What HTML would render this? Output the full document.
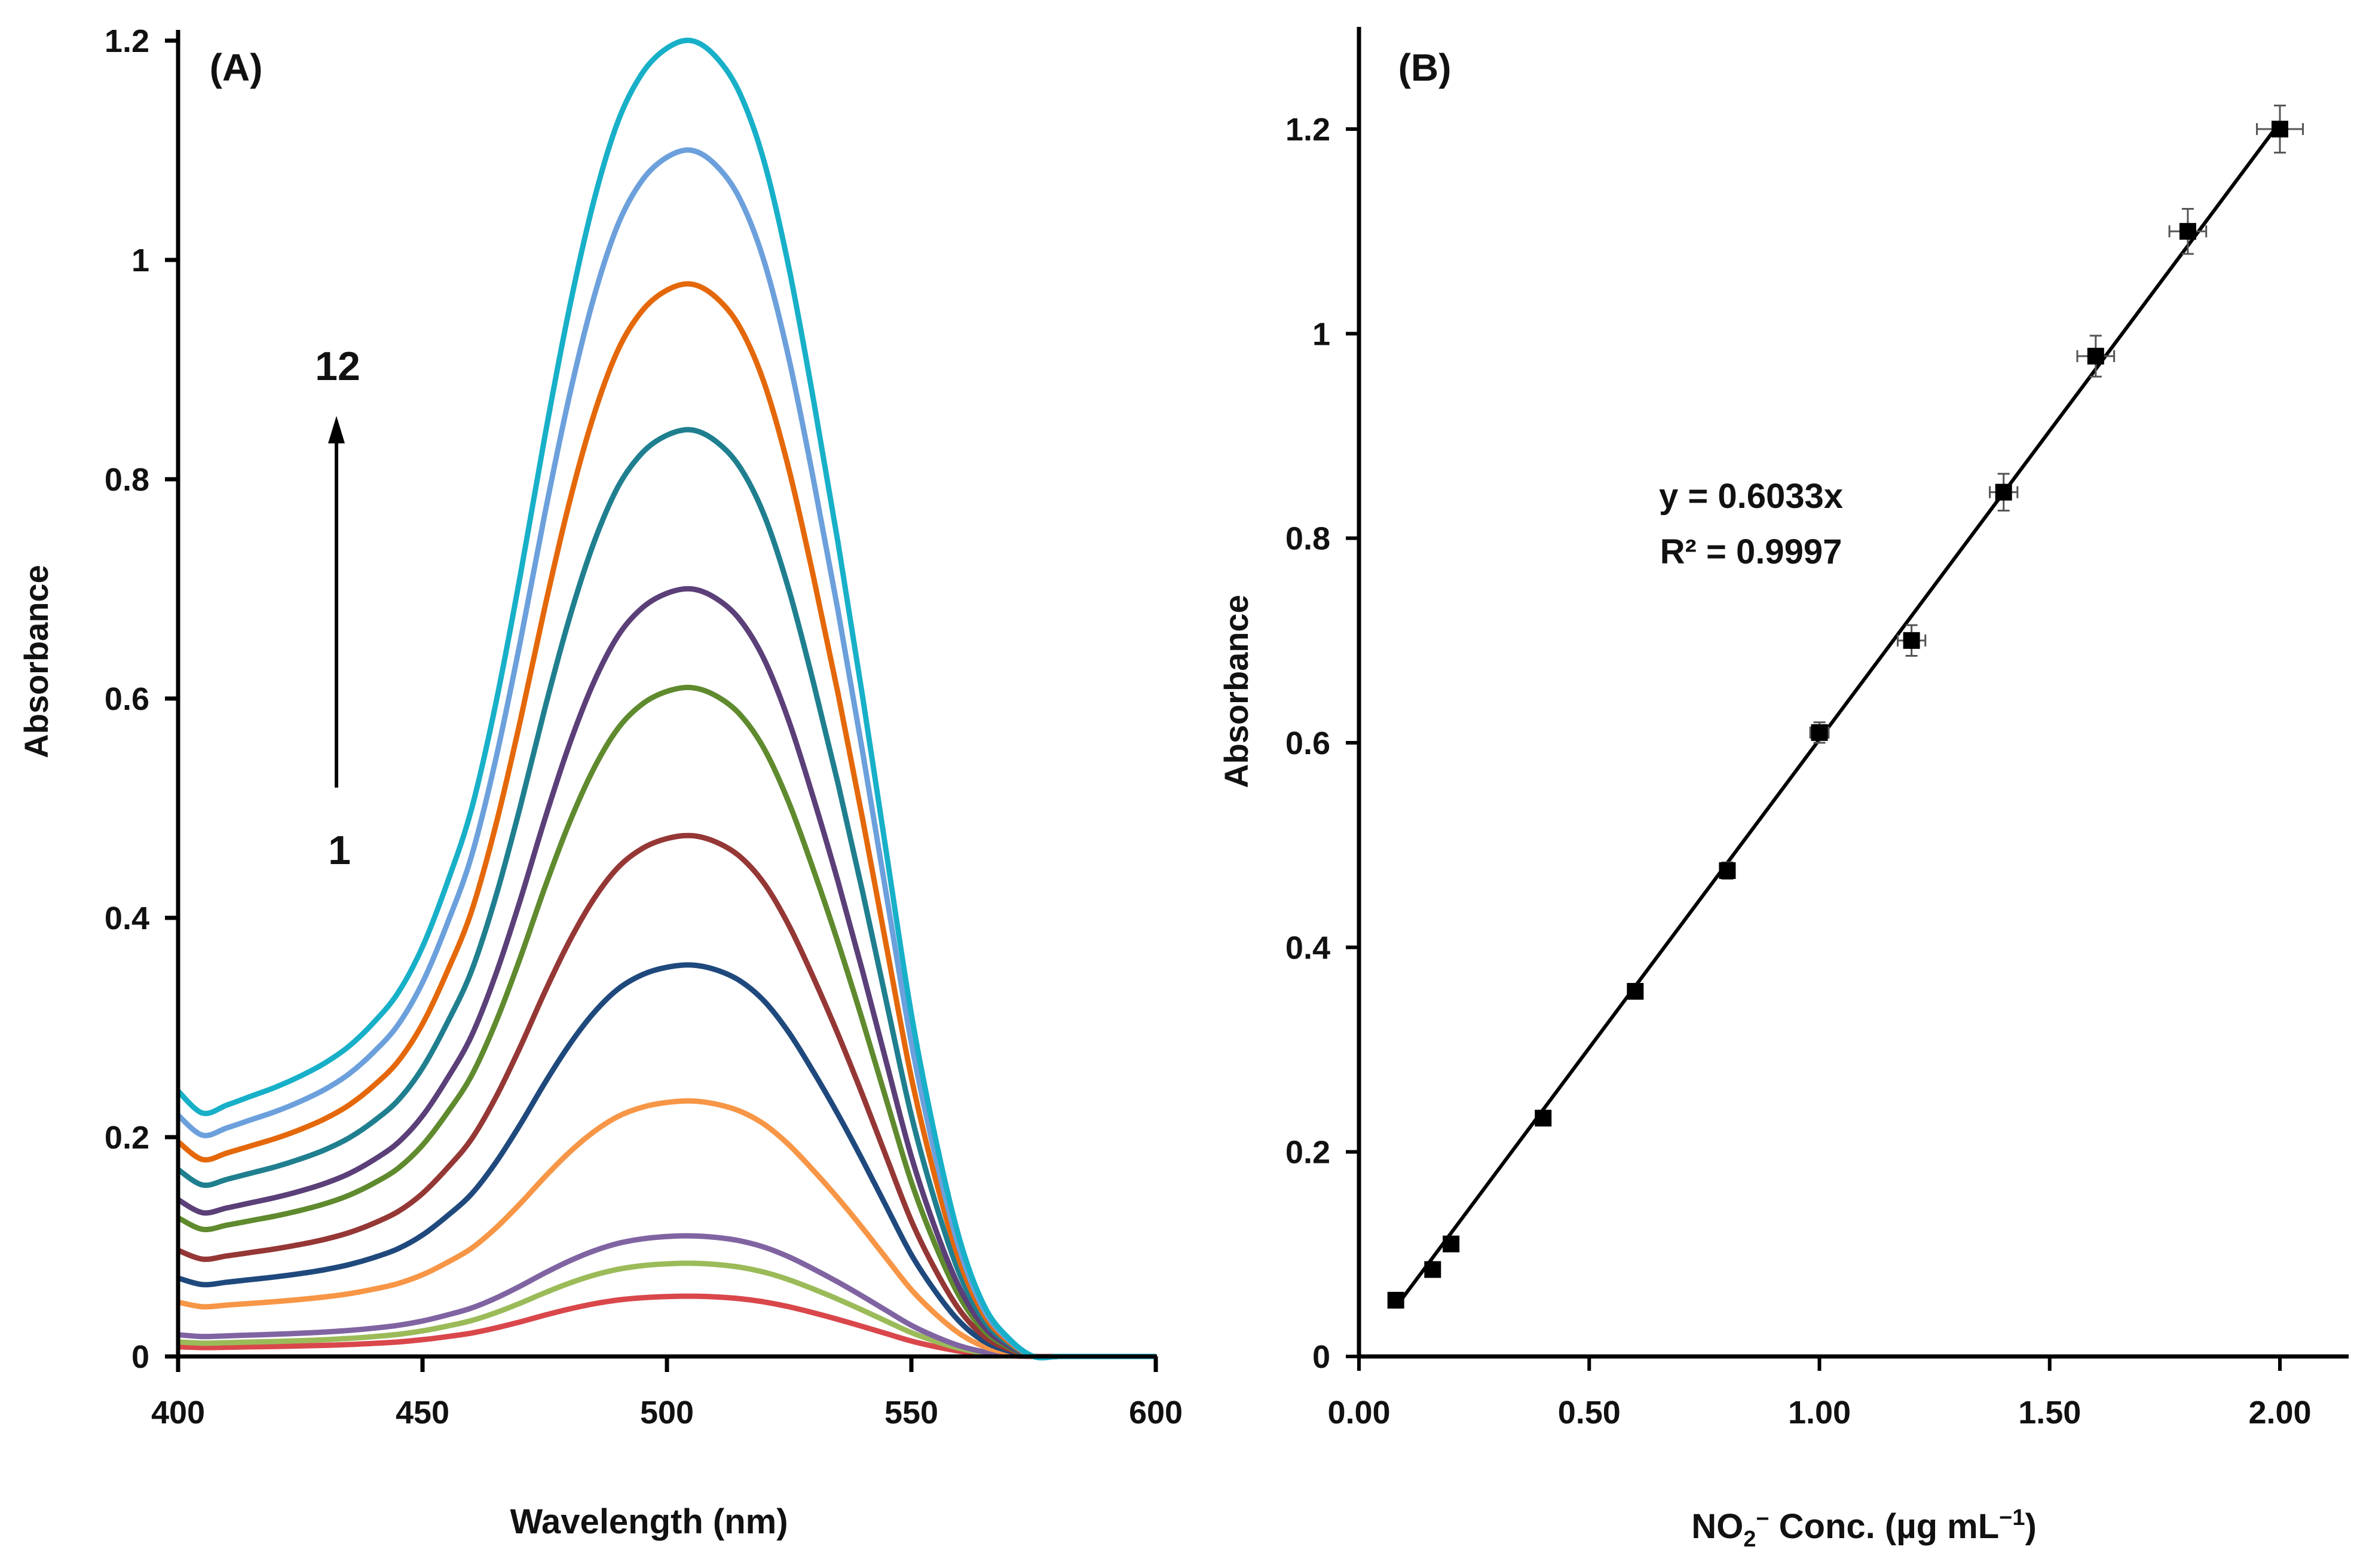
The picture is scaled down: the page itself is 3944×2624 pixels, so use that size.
<!DOCTYPE html>
<html><head><meta charset="utf-8"><style>
html,body{margin:0;padding:0;background:#fff;}
svg{display:block;}
text{font-family:"Liberation Sans",Arial,sans-serif;font-weight:bold;fill:#111;}
</style></head>
<body>
<svg id="fig" width="3944" height="2624" viewBox="0 0 3944 2624" xmlns="http://www.w3.org/2000/svg">
  <g id="panelA"></g>
  <g id="panelB"></g>
</svg>
<script>
// ---------- Panel A data ----------
const wavelengths = [400,405,410,415,420,425,430,435,440,445,450,455,460,465,470,475,480,485,490,495,500,505,510,515,520,525,530,535,540,545,550,555,560,565,570,575,580,585,590,595,600];
const shapeProfile = [0,0.002,0.005,0.01,0.015,0.024,0.035,0.052,0.075,0.105,0.15,0.21,0.28,0.38,0.50,0.63,0.75,0.85,0.925,0.97,0.993,1,0.985,0.95,0.89,0.81,0.71,0.60,0.48,0.36,0.24,0.15,0.08,0.035,0.012,0,0,0,0,0,0];
const baselineProfile = [1.1,1.0,1.02,1.035,1.05,1.055,1.06,1.055,1.05,1.04,1.03,1.025,1.02,1.015,1.01,1.005,1,1,1,1,1,1,1,1,0.98,0.9,0.8,0.7,0.6,0.47,0.35,0.23,0.12,0.05,0.02,0,0,0,0,0,0];
const peakValues = [0.055,0.085,0.11,0.233,0.357,0.475,0.61,0.70,0.845,0.978,1.10,1.20];
const baseValues = [0.008,0.012,0.018,0.045,0.065,0.088,0.115,0.13,0.155,0.178,0.20,0.22];
const curveColors = ["#d9474b","#9bbb59","#8064a2","#f79646","#1f497d","#953735","#5f8a2e","#5b3f78","#1f7f8f","#e4680a","#6ca0dc","#17b0c8"];
const xTicksA = [400,450,500,550,600];
const yTicksA = [0,0.2,0.4,0.6,0.8,1,1.2];
const yTickLabelsA = ["0","0.2","0.4","0.6","0.8","1","1.2"];

// ---------- Panel B data ----------
const concs = [0.08,0.16,0.2,0.4,0.6,0.8,1.0,1.2,1.4,1.6,1.8,2.0];
const absB = [0.055,0.085,0.11,0.233,0.357,0.475,0.61,0.70,0.845,0.978,1.10,1.20];
const yErr = [0.005,0.006,0.006,0.007,0.007,0.008,0.01,0.015,0.018,0.02,0.022,0.023];
const xErr = [0.01,0.01,0.01,0.01,0.01,0.015,0.02,0.03,0.03,0.04,0.04,0.05];
const slope = 0.6033;
const xTicksB = [0,0.5,1.0,1.5,2.0];
const xTickLabelsB = ["0.00","0.50","1.00","1.50","2.00"];
const yTicksB = [0,0.2,0.4,0.6,0.8,1,1.2];
const yTickLabelsB = ["0","0.2","0.4","0.6","0.8","1","1.2"];

const NS = "http://www.w3.org/2000/svg";
function mk(parent, tag, attrs, txt){
  const e = document.createElementNS(NS, tag);
  for (const k in attrs) e.setAttribute(k, attrs[k]);
  if (txt !== undefined) e.textContent = txt;
  parent.appendChild(e);
  return e;
}

// ---------- Panel A ----------
const A = document.getElementById('panelA');
const ax = w => 298 + (w - 400) / 200 * (1934 - 298);
const ay = v => 2270 - v / 1.2 * (2270 - 68);

for (let c = 0; c < peakValues.length; c++) {
  const pts = wavelengths.map((w, i) => [ax(w), ay(baseValues[c] * baselineProfile[i] + (peakValues[c] - baseValues[c]) * shapeProfile[i])]);
  let d = "M" + pts[0][0].toFixed(1) + "," + pts[0][1].toFixed(1);
  for (let i = 0; i < pts.length - 1; i++) {
    const p0 = pts[Math.max(0, i - 1)], p1 = pts[i], p2 = pts[i + 1], p3 = pts[Math.min(pts.length - 1, i + 2)];
    const c1 = [p1[0] + (p2[0] - p0[0]) / 6, p1[1] + (p2[1] - p0[1]) / 6];
    const c2 = [p2[0] - (p3[0] - p1[0]) / 6, p2[1] - (p3[1] - p1[1]) / 6];
    d += " C" + c1[0].toFixed(1) + "," + c1[1].toFixed(1) + " " + c2[0].toFixed(1) + "," + c2[1].toFixed(1) + " " + p2[0].toFixed(1) + "," + p2[1].toFixed(1);
  }
  const p = mk(A, 'path', {d: d, fill: 'none', stroke: curveColors[c], 'stroke-width': 9, 'stroke-linejoin': 'round'});
  
  
}

const axA = mk(A, 'g', {});


mk(axA, 'line', {x1: 298, y1: 50, x2: 298, y2: 2272, stroke: '#000', 'stroke-width': 7});
mk(axA, 'line', {x1: 295, y1: 2270, x2: 1936, y2: 2270, stroke: '#000', 'stroke-width': 7});
xTicksA.forEach(t => {
  mk(axA, 'line', {x1: ax(t), y1: 2270, x2: ax(t), y2: 2296, stroke: '#000', 'stroke-width': 7});
  const tl = mk(axA, 'text', {x: ax(t), y: 2382, 'font-size': 54, 'text-anchor': 'middle'}, String(t));
  
  
});
yTicksA.forEach((t, i) => {
  mk(axA, 'line', {x1: 276, y1: ay(t), x2: 298, y2: ay(t), stroke: '#000', 'stroke-width': 7});
  const tl = mk(axA, 'text', {x: 250, y: ay(t) + 19, 'font-size': 54, 'text-anchor': 'end'}, yTickLabelsA[i]);
  
  
});
</script>
<script>
(function(){
  const A = document.getElementById('panelA');
  const add = (tag, attrs, txt, name) => { const e = document.createElementNS("http://www.w3.org/2000/svg", tag); for (const k in attrs) e.setAttribute(k, attrs[k]); if (txt) e.textContent = txt;   A.appendChild(e); return e; };
  add('text', {x: 1086, y: 2566, 'font-size': 58, 'text-anchor': 'middle'}, 'Wavelength (nm)', 'x-axis-title-a');
  add('text', {x: 0, y: 0, 'font-size': 56, 'text-anchor': 'middle', transform: 'translate(80,1107) rotate(-90)'}, 'Absorbance', 'y-axis-title-a');
  add('text', {x: 395, y: 135, 'font-size': 64, 'text-anchor': 'middle'}, '(A)', 'panel-label-a');
  add('text', {x: 565, y: 636, 'font-size': 68, 'text-anchor': 'middle'}, '12', 'arrow-label-12');
  add('text', {x: 568, y: 1446, 'font-size': 68, 'text-anchor': 'middle'}, '1', 'arrow-label-1');
  add('line', {x1: 563, y1: 1318, x2: 563, y2: 740, stroke: '#000', 'stroke-width': 6}, null, 'trend-arrow-shaft');
  add('polygon', {points: '563,696 549,742 577,742', fill: '#000'}, null, 'trend-arrow-head');
})();

(function(){
  const B = document.getElementById('panelB');
  const bx = v => 2274 + v / 2 * (3815 - 2274);
  const by = v => 2270 - v / 1.2 * (2270 - 216);
  const mk2 = (parent, tag, attrs, txt) => { const e = document.createElementNS("http://www.w3.org/2000/svg", tag); for (const k in attrs) e.setAttribute(k, attrs[k]); if (txt !== undefined) e.textContent = txt; parent.appendChild(e); return e; };

  const axB = mk2(B, 'g', {});
  
  
  mk2(axB, 'line', {x1: 2274, y1: 45, x2: 2274, y2: 2272, stroke: '#000', 'stroke-width': 7});
  mk2(axB, 'line', {x1: 2271, y1: 2270, x2: 3930, y2: 2270, stroke: '#000', 'stroke-width': 7});
  xTicksB.forEach((t, i) => {
    mk2(axB, 'line', {x1: bx(t), y1: 2270, x2: bx(t), y2: 2294, stroke: '#000', 'stroke-width': 6});
    const tl = mk2(axB, 'text', {x: bx(t), y: 2382, 'font-size': 54, 'text-anchor': 'middle'}, xTickLabelsB[i]);
    
    
  });
  yTicksB.forEach((t, i) => {
    mk2(axB, 'line', {x1: 2252, y1: by(t), x2: 2274, y2: by(t), stroke: '#000', 'stroke-width': 6});
    const tl = mk2(axB, 'text', {x: 2226, y: by(t) + 19, 'font-size': 54, 'text-anchor': 'end'}, yTickLabelsB[i]);
    
    
  });

  const fit = mk2(B, 'line', {x1: bx(concs[0]), y1: by(slope * concs[0]), x2: bx(concs[concs.length - 1]), y2: by(slope * concs[concs.length - 1]), stroke: '#000', 'stroke-width': 6});
  
  

  concs.forEach((c, i) => {
    const g = mk2(B, 'g', {});
    
    
    const x = bx(c), y = by(absB[i]);
    const x1 = bx(c - xErr[i]), x2 = bx(c + xErr[i]);
    const y1 = by(absB[i] + yErr[i]), y2 = by(absB[i] - yErr[i]);
    mk2(g, 'line', {x1: x1, y1: y, x2: x2, y2: y, stroke: '#555', 'stroke-width': 3});
    mk2(g, 'line', {x1: x1, y1: y - 10, x2: x1, y2: y + 10, stroke: '#555', 'stroke-width': 3});
    mk2(g, 'line', {x1: x2, y1: y - 10, x2: x2, y2: y + 10, stroke: '#555', 'stroke-width': 3});
    mk2(g, 'line', {x1: x, y1: y1, x2: x, y2: y2, stroke: '#555', 'stroke-width': 3});
    mk2(g, 'line', {x1: x - 10, y1: y1, x2: x + 10, y2: y1, stroke: '#555', 'stroke-width': 3});
    mk2(g, 'line', {x1: x - 10, y1: y2, x2: x + 10, y2: y2, stroke: '#555', 'stroke-width': 3});
    mk2(g, 'rect', {x: x - 14, y: y - 14, width: 28, height: 28, fill: '#000'});
  });

  const lab = (attrs, txt, name) => { const e = mk2(B, 'text', attrs, txt);   return e; };
  lab({x: 2384, y: 135, 'font-size': 64, 'text-anchor': 'middle'}, '(B)', 'panel-label-b');
  lab({x: 2930, y: 850, 'font-size': 58, 'text-anchor': 'middle'}, 'y = 0.6033x', 'regression-equation');
  lab({x: 2930, y: 943, 'font-size': 58, 'text-anchor': 'middle'}, 'R² = 0.9997', 'r-squared');
  lab({x: 0, y: 0, 'font-size': 56, 'text-anchor': 'middle', transform: 'translate(2088,1157) rotate(-90)'}, 'Absorbance', 'y-axis-title-b');
  const xt = lab({x: 3119, y: 2574, 'font-size': 58, 'text-anchor': 'middle'}, '', 'x-axis-title-b');
  xt.innerHTML = 'NO<tspan font-size="38" dy="14">2</tspan><tspan font-size="38" dy="-34">−</tspan><tspan dy="20"> Conc. (µg mL</tspan><tspan font-size="38" dy="-22">−1</tspan><tspan dy="22">)</tspan>';
})();
</script>
</body></html>
